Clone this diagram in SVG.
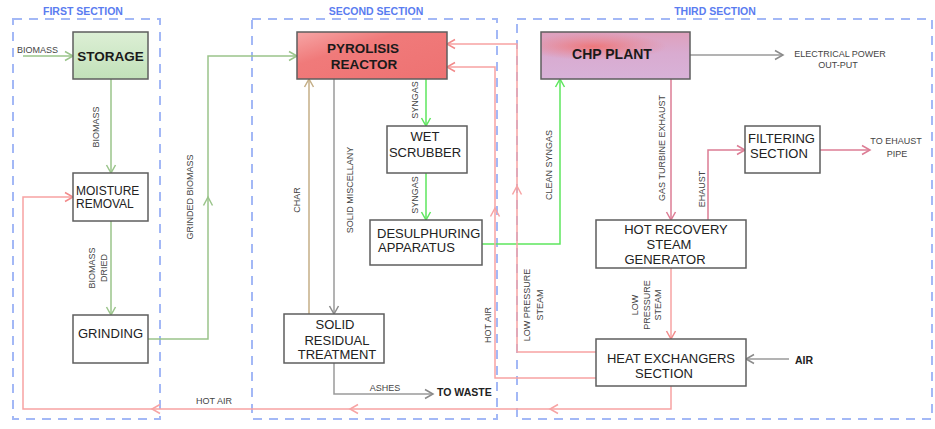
<svg xmlns="http://www.w3.org/2000/svg" width="935" height="429" viewBox="0 0 935 429">
<style>
  .sec{fill:none;stroke:#a3b8f6;stroke-width:2;stroke-dasharray:9 7}
  .st{font-family:"Liberation Sans",Arial,sans-serif;font-weight:bold;font-size:10.5px;fill:#5a7cf0;text-anchor:middle}
  .box{stroke:#5e5e5e;stroke-width:1.5}
  .w{fill:#ffffff}
  .t{font-family:"Liberation Sans",Arial,sans-serif;font-size:13px;fill:#222}
  .tb{font-family:"Liberation Sans",Arial,sans-serif;font-size:13.5px;font-weight:bold;fill:#1a1a1a;text-anchor:middle}
  .c{text-anchor:middle}
  .lb{font-family:"Liberation Sans",Arial,sans-serif;font-size:9px;fill:#444}
  .lbb{font-family:"Liberation Sans",Arial,sans-serif;font-size:10.5px;font-weight:bold;fill:#222}
  .ln{fill:none;stroke-width:1.5}
  .g{stroke:#9ac48a}
  .bg{stroke:#5ee65e}
  .r{stroke:#f7a3a3}
  .m{stroke:#dc7c94}
  .gr{stroke:#9a9a9a}
  .ch{stroke:#c4ae86}
</style>
<defs>
  <marker id="aG" viewBox="-10 -6 12 12" markerWidth="12" markerHeight="12" markerUnits="userSpaceOnUse" refX="0" refY="0" orient="auto"><path d="M-8,-4.5 L0,0 L-8,4.5" fill="none" stroke="#9ac48a" stroke-width="1.5"/></marker>
  <marker id="aB" viewBox="-10 -6 12 12" markerWidth="12" markerHeight="12" markerUnits="userSpaceOnUse" refX="0" refY="0" orient="auto"><path d="M-8,-4.5 L0,0 L-8,4.5" fill="none" stroke="#5ee65e" stroke-width="1.5"/></marker>
  <marker id="aR" viewBox="-10 -6 12 12" markerWidth="12" markerHeight="12" markerUnits="userSpaceOnUse" refX="0" refY="0" orient="auto"><path d="M-8,-4.5 L0,0 L-8,4.5" fill="none" stroke="#f28a8a" stroke-width="1.5"/></marker>
  <marker id="aM" viewBox="-10 -6 12 12" markerWidth="12" markerHeight="12" markerUnits="userSpaceOnUse" refX="0" refY="0" orient="auto"><path d="M-8,-4.5 L0,0 L-8,4.5" fill="none" stroke="#dc7c94" stroke-width="1.5"/></marker>
  <marker id="aY" viewBox="-10 -6 12 12" markerWidth="12" markerHeight="12" markerUnits="userSpaceOnUse" refX="0" refY="0" orient="auto"><path d="M-8,-4.5 L0,0 L-8,4.5" fill="none" stroke="#8a8a8a" stroke-width="1.5"/></marker>
  <marker id="aC" viewBox="-10 -6 12 12" markerWidth="12" markerHeight="12" markerUnits="userSpaceOnUse" refX="0" refY="0" orient="auto"><path d="M-8,-4.5 L0,0 L-8,4.5" fill="none" stroke="#c4ae86" stroke-width="1.5"/></marker>
  <linearGradient id="gStor" x1="0" y1="0" x2="0" y2="1"><stop offset="0" stop-color="#dcefd5"/><stop offset="1" stop-color="#c2e1b9"/></linearGradient>
  <linearGradient id="gPyro" x1="0" y1="0" x2="1" y2="1"><stop offset="0" stop-color="#f6a6a6"/><stop offset="0.35" stop-color="#f07a7a"/><stop offset="1" stop-color="#ee7272"/></linearGradient>
  <linearGradient id="gChp" x1="0" y1="0" x2="0" y2="1"><stop offset="0" stop-color="#dfa0bc"/><stop offset="0.45" stop-color="#d9abd0"/><stop offset="1" stop-color="#d8b2d8"/></linearGradient>
  <radialGradient id="gChpGlow" cx="0.35" cy="0.3" r="0.5" gradientTransform="translate(0.35 0.3) scale(1 0.6) translate(-0.35 -0.3)"><stop offset="0" stop-color="#f07272" stop-opacity="0.9"/><stop offset="0.6" stop-color="#f07878" stop-opacity="0.35"/><stop offset="1" stop-color="#f07878" stop-opacity="0"/></radialGradient>
</defs>

<g id="sections">
  <rect class="sec" x="13" y="19" width="147" height="400"/>
  <rect class="sec" x="252" y="19" width="245" height="400"/>
  <rect class="sec" x="517" y="19" width="415" height="400"/>
  <text class="st" x="83" y="15">FIRST SECTION</text>
  <text class="st" x="376" y="15">SECOND SECTION</text>
  <text class="st" x="715" y="15">THIRD SECTION</text>
</g>

<g id="connectors">
  <path class="ln g" d="M23,56 H73" marker-end="url(#aG)"/>
  <path class="ln g" d="M111,79 V173" marker-end="url(#aG)"/>
  <path class="ln g" d="M111,221 V315" marker-end="url(#aG)"/>
  <path class="ln g" d="M148,339 H208 V56 H297" marker-end="url(#aG)"/>
  <path class="ln g" d="M203.5,205.5 L208,197 L212.5,205.5"/>
  <path class="ln ch" d="M309,314 V79" marker-end="url(#aC)"/>
  <path class="ln gr" d="M334,79 V314" marker-end="url(#aY)"/>
  <path class="ln bg" d="M426,79 V126" marker-end="url(#aB)"/>
  <path class="ln bg" d="M426,173 V220" marker-end="url(#aB)"/>
  <path class="ln bg" d="M482,244 H560 V79" marker-end="url(#aB)"/>
  <path class="ln gr" d="M334,363 V394 H433" marker-end="url(#aY)"/>
  <path class="ln gr" d="M690,55 H783" marker-end="url(#aY)"/>
  <path class="ln m" d="M671,79 V220" marker-end="url(#aM)"/>
  <path class="ln m" d="M708,220 V150 H745" marker-end="url(#aM)"/>
  <path class="ln m" d="M820,150 H870" marker-end="url(#aM)"/>
  <path class="ln r" d="M671,268 V339" marker-end="url(#aR)"/>
  <path class="ln gr" d="M789,359 H746" marker-end="url(#aY)"/>
  <path class="ln r" d="M596,352 H517 V44 H447" marker-end="url(#aR)"/>
  <path class="ln r" d="M512.5,194.5 L517,186 L521.5,194.5"/>
  <path class="ln r" d="M596,378 H495 V67 H447" marker-end="url(#aR)"/>
  <path class="ln r" d="M490.5,216.5 L495,208 L499.5,216.5"/>
  <path class="ln r" d="M671,386 V409 H23 V197 H73" marker-end="url(#aR)"/>
  <path class="ln r" d="M558,404.5 L550,409 L558,413.5"/>
  <path class="ln r" d="M358,404.5 L350,409 L358,413.5"/>
  <path class="ln r" d="M160,404.5 L152,409 L160,413.5"/>

  <text class="lb" x="17" y="52.5">BIOMASS</text>
  <text class="lb c" transform="translate(99.3,127) rotate(-90)">BIOMASS</text>
  <text class="lb c" transform="translate(94.8,268) rotate(-90)">BIOMASS</text>
  <text class="lb c" transform="translate(106.8,268) rotate(-90)">DRIED</text>
  <text class="lb c" transform="translate(193.3,197) rotate(-90)">GRINDED BIOMASS</text>
  <text class="lb c" transform="translate(300.3,200) rotate(-90)">CHAR</text>
  <text class="lb c" transform="translate(353.3,190) rotate(-90)">SOLID MISCELLANY</text>
  <text class="lb c" transform="translate(418.3,100) rotate(-90)">SYNGAS</text>
  <text class="lb c" transform="translate(418.3,195) rotate(-90)">SYNGAS</text>
  <text class="lb c" transform="translate(552.3,165) rotate(-90)">CLEAN SYNGAS</text>
  <text class="lb c" transform="translate(665.3,148) rotate(-90)">GAS TURBINE EXHAUST</text>
  <text class="lb c" transform="translate(705.3,189) rotate(-90)">EHAUST</text>
  <text class="lb c" transform="translate(638.3,305) rotate(-90)">LOW</text>
  <text class="lb c" transform="translate(650.3,305) rotate(-90)">PRESSURE</text>
  <text class="lb c" transform="translate(661.3,305) rotate(-90)">STEAM</text>
  <text class="lb c" transform="translate(530.3,305) rotate(-90)">LOW PRESSURE</text>
  <text class="lb c" transform="translate(543.3,305) rotate(-90)">STEAM</text>
  <text class="lb c" transform="translate(491.3,325) rotate(-90)">HOT AIR</text>
  <text class="lb c" x="214" y="404">HOT AIR</text>
  <text class="lb c" x="385" y="391">ASHES</text>
  <text class="lbb" x="437" y="396">TO WASTE</text>
  <text class="lbb" x="795" y="363.5">AIR</text>
  <text class="lb c" x="840" y="57">ELECTRICAL POWER</text>
  <text class="lb c" x="838" y="67.5">OUT-PUT</text>
  <text class="lb c" x="896" y="144">TO EHAUST</text>
  <text class="lb c" x="897" y="156.5">PIPE</text>
</g>

<g id="storage">
  <rect class="box" x="73" y="32" width="75" height="47" fill="url(#gStor)"/>
  <text class="tb" x="110.5" y="61">STORAGE</text>
</g>
<g id="moisture-removal">
  <rect class="box w" x="73" y="173" width="75" height="48"/>
  <text class="t" x="76" y="194.5" style="font-size:12px">MOISTURE</text>
  <text class="t" x="76" y="207.5" style="font-size:12px">REMOVAL</text>
</g>
<g id="grinding">
  <rect class="box w" x="73" y="315" width="75" height="48"/>
  <text class="t c" x="110.5" y="338">GRINDING</text>
</g>
<g id="pyrolisis-reactor">
  <rect class="box" x="297" y="32" width="150" height="47" fill="url(#gPyro)"/>
  <text class="tb" x="363" y="53">PYROLISIS</text>
  <text class="tb" x="364" y="69">REACTOR</text>
</g>
<g id="wet-scrubber">
  <rect class="box w" x="387" y="126" width="80" height="47"/>
  <text class="t c" x="425" y="141">WET</text>
  <text class="t c" x="425" y="157">SCRUBBER</text>
</g>
<g id="desulphuring-apparatus">
  <rect class="box w" x="370" y="220" width="112" height="45"/>
  <text class="t" x="377" y="237.5">DESULPHURING</text>
  <text class="t" x="378" y="252">APPARATUS</text>
</g>
<g id="solid-residual-treatment">
  <rect class="box w" x="284" y="314" width="100" height="49"/>
  <text class="t c" x="335" y="329">SOLID</text>
  <text class="t c" x="337" y="345">RESIDUAL</text>
  <text class="t c" x="337" y="359">TREATMENT</text>
</g>
<g id="chp-plant">
  <rect class="box" x="541" y="32" width="149" height="47" fill="url(#gChp)"/>
  <rect x="542" y="33" width="147" height="45" fill="url(#gChpGlow)"/>
  <text class="tb" x="612" y="59" style="font-size:14px">CHP PLANT</text>
</g>
<g id="filtering-section">
  <rect class="box w" x="745" y="126" width="75" height="47"/>
  <text class="t" x="748" y="143">FILTERING</text>
  <text class="t" x="750" y="158">SECTION</text>
</g>
<g id="hot-recovery-steam-generator">
  <rect class="box w" x="596" y="220" width="150" height="48"/>
  <text class="t c" x="676" y="234">HOT RECOVERY</text>
  <text class="t c" x="669" y="249">STEAM</text>
  <text class="t c" x="665" y="264">GENERATOR</text>
</g>
<g id="heat-exchangers-section">
  <rect class="box w" x="596" y="339" width="150" height="47"/>
  <text class="t c" x="671" y="363">HEAT EXCHANGERS</text>
  <text class="t c" x="664" y="378">SECTION</text>
</g>
</svg>
